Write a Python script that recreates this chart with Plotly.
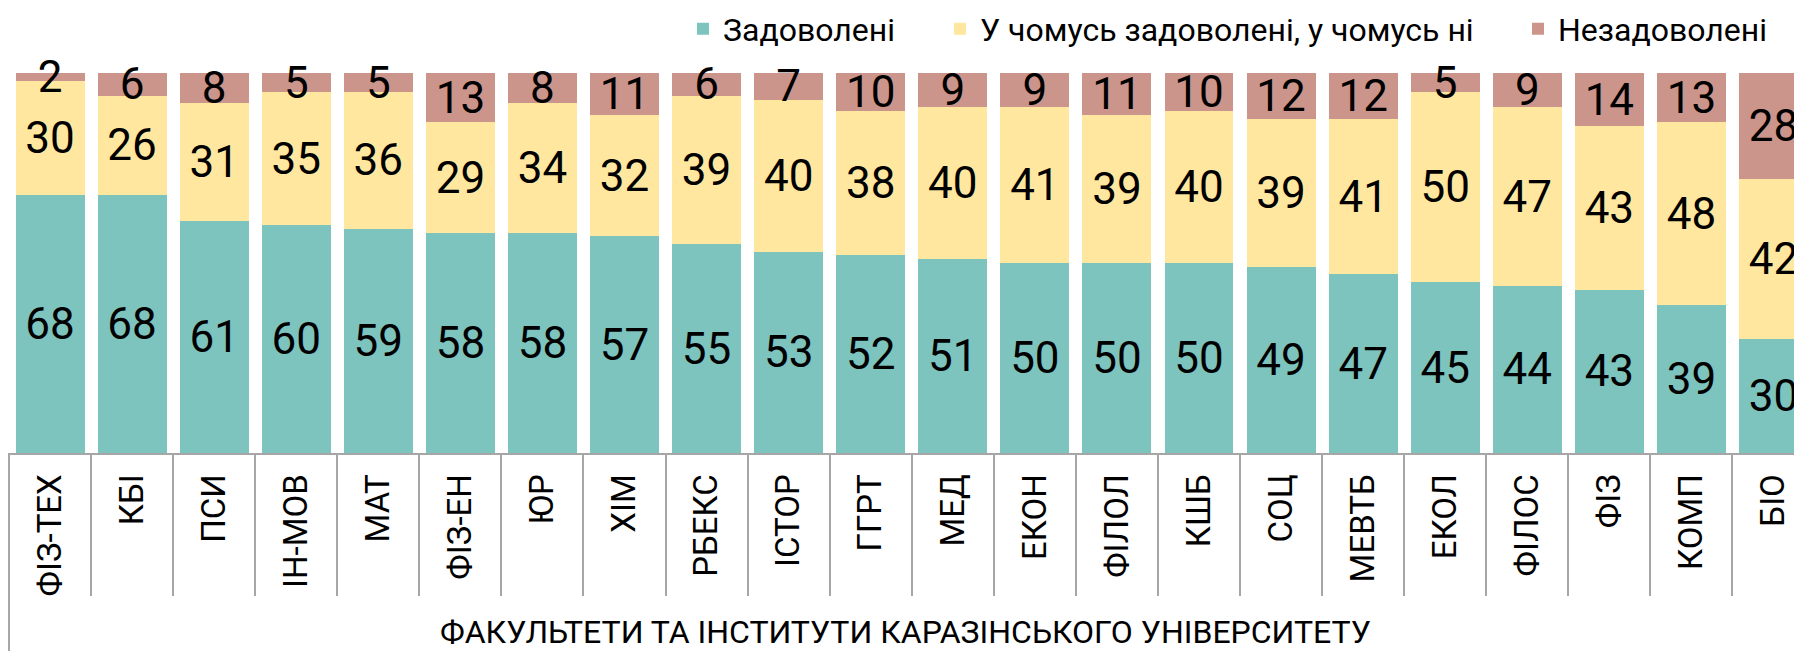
import plotly.graph_objects as go

categories = ["ФІЗ-ТЕХ", "КБІ", "ПСИ", "ІН-МОВ", "МАТ", "ФІЗ-ЕН", "ЮР", "ХІМ", "РБЕКС", "ІСТОР",
              "ГГРТ", "МЕД", "ЕКОН", "ФІЛОЛ", "КШБ", "СОЦ", "МЕВТБ", "ЕКОЛ", "ФІЛОС", "ФІЗ", "КОМП", "БІО"]
satisfied = [68, 68, 61, 60, 59, 58, 58, 57, 55, 53, 52, 51, 50, 50, 50, 49, 47, 45, 44, 43, 39, 30]
partly = [30, 26, 31, 35, 36, 29, 34, 32, 39, 40, 38, 40, 41, 39, 40, 39, 41, 50, 47, 43, 48, 42]
unsatisfied = [2, 6, 8, 5, 5, 13, 8, 11, 6, 7, 10, 9, 9, 11, 10, 12, 12, 5, 9, 14, 13, 28]
series_names = ["Задоволені", "У чомусь задоволені, у чомусь ні", "Незадоволені"]
colors = ["#7DC3BE", "#FFE79F", "#CC958B"]
axis_title = "ФАКУЛЬТЕТИ ТА ІНСТИТУТИ КАРАЗІНСЬКОГО УНІВЕРСИТЕТУ"

xs = list(range(len(categories)))
FONT = "Roboto"

# the page body has an 8px default margin, so the figure is offset by (8, 8)
OFF = 8
W, H = 1802 - OFF, 651 - OFF
ml = 9 - OFF
mt = 73 - OFF
axis_y = 453 - OFF
mb = H - axis_y
plot_w = W - ml
plot_h = H - mt - mb

legend_ids = ["legend", "legend2", "legend3"]
legend_text_px = [726 - OFF, 983 - OFF, 1561 - OFF]   # left edge of each legend text (px)

fig = go.Figure()
for name, vals, col, lid in zip(series_names, [satisfied, partly, unsatisfied], colors, legend_ids):
    fig.add_trace(go.Bar(
        x=xs, y=vals, name=name, marker=dict(color=col, line=dict(width=0)),
        text=[str(v) for v in vals], textposition="inside", insidetextanchor="middle",
        textangle=0, textfont=dict(family=FONT, size=44, color="black"),
        hoverinfo="skip", legend=lid, cliponaxis=False,
    ))

legend_common = dict(orientation="h", xanchor="left", y=1 + (mt - (29 - OFF)) / plot_h, yanchor="middle",
                     font=dict(family=FONT, size=32, color="black"), borderwidth=0,
                     itemclick=False, itemdoubleclick=False, bgcolor="rgba(0,0,0,0)")
legends = {}
for lid, tx in zip(legend_ids, legend_text_px):
    legends[lid] = dict(x=(tx - 43 - ml) / plot_w, **legend_common)

fig.update_layout(
    width=W, height=H, barmode="stack", bargap=0.16,
    margin=dict(l=ml, r=0, t=mt, b=mb, pad=0, autoexpand=False),
    plot_bgcolor="white", paper_bgcolor="white",
    font=dict(family=FONT, color="black"),
    uniformtext=dict(minsize=44, mode="show"),
    showlegend=True,
    xaxis=dict(
        range=[-0.5, -0.5 + plot_w / 82.07], tickmode="array", tickvals=xs, ticktext=categories,
        tickangle=-90, tickfont=dict(family=FONT, size=33, color="black"), ticks="",
        showline=True, linecolor="#A6A6A6", linewidth=2, showgrid=False, zeroline=False,
        ticklabelstandoff=6, automargin=False,
        minor=dict(tickmode="array", tickvals=[i - 0.5 for i in range(len(categories) + 1)],
                   ticks="outside", ticklen=141, tickwidth=2, tickcolor="#A6A6A6", showgrid=False),
        fixedrange=True,
    ),
    yaxis=dict(range=[0, 100], visible=False, showgrid=False, fixedrange=True, automargin=False),
    annotations=[dict(text=axis_title, xref="paper", yref="paper", x=0.5, y=-(632 - 453) / plot_h,
                      xanchor="center", yanchor="middle", showarrow=False,
                      font=dict(family=FONT, size=32, color="black"))],
    shapes=[dict(type="line", xref="paper", yref="paper", x0=0, x1=0, y0=0, y1=-(H - axis_y) / plot_h,
                 line=dict(color="#A6A6A6", width=2))],
    **legends,
)

fig.write_html("out.html", config={"displayModeBar": False})
